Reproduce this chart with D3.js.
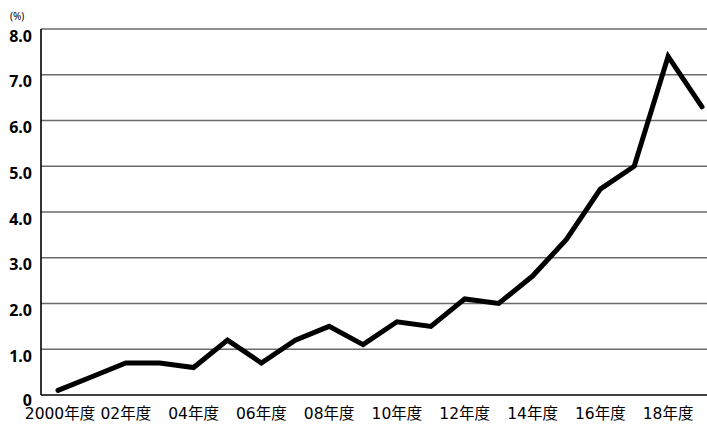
<!DOCTYPE html>
<html>
<head>
<meta charset="utf-8">
<script src="https://cdn.jsdelivr.net/npm/d3@7"></script>
<style>
  html, body { margin: 0; padding: 0; background: #fff; }
  svg { display: block; }
</style>
</head>
<body>
<svg id="chart" width="707" height="424"></svg>
<script>
// Fiscal years 2000–2019 and the ratio (%) for each year
const years = d3.range(2000, 2020);
const values = [0.1, 0.4, 0.7, 0.7, 0.6, 1.2, 0.7, 1.2, 1.5, 1.1,
                1.6, 1.5, 2.1, 2.0, 2.6, 3.4, 4.5, 5.0, 7.4, 6.3];
const yTicks = [0, 1, 2, 3, 4, 5, 6, 7, 8];
const xTickYears = [2000, 2002, 2004, 2006, 2008, 2010, 2012, 2014, 2016, 2018];
const xTickLabel = y => y === 2000 ? "2000年度" : String(y % 100).padStart(2, "0") + "年度";
const yTickLabel = v => v === 0 ? "0" : v.toFixed(1);

const svg = d3.select("#chart");
const plot = { left: 41, right: 707, top: 29, bottom: 395 };

const x = d3.scaleLinear().domain([2000, 2019]).range([58, 702]);
const y = d3.scaleLinear().domain([0, 8]).range([plot.bottom, plot.top]);

// Horizontal grid lines
svg.append("g")
  .selectAll("line")
  .data(yTicks.filter(d => d > 0))
  .join("line")
  .attr("x1", plot.left).attr("x2", plot.right)
  .attr("y1", d => y(d)).attr("y2", d => y(d))
  .attr("stroke", "#6a6a6a")
  .attr("stroke-width", 1.4);

// Axis lines
svg.append("line")
  .attr("x1", plot.left).attr("x2", plot.left)
  .attr("y1", plot.top).attr("y2", plot.bottom)
  .attr("stroke", "#000").attr("stroke-width", 1.6);
svg.append("line")
  .attr("x1", plot.left).attr("x2", plot.right)
  .attr("y1", plot.bottom).attr("y2", plot.bottom)
  .attr("stroke", "#000").attr("stroke-width", 1.6);

// Y tick labels
svg.append("g")
  .selectAll("text")
  .data(yTicks)
  .join("text")
  .attr("x", 32)
  .attr("y", d => y(d) + (d === 0 ? 11 : 12.5))
  .attr("text-anchor", "end")
  .attr("font-family", "'Noto Sans', sans-serif")
  .attr("font-size", 16)
  .attr("font-weight", "bold")
  .attr("fill", "#000")
  .text(yTickLabel);

// Unit label
svg.append("text")
  .attr("x", 10).attr("y", 20)
  .attr("font-family", "'Noto Sans', sans-serif")
  .attr("font-size", 10)
  .attr("fill", "#000")
  .text("(%)");

// X tick labels
svg.append("g")
  .selectAll("text")
  .data(xTickYears)
  .join("text")
  .attr("x", d => x(d) + (d === 2000 ? 2 : 0))
  .attr("y", 419)
  .attr("text-anchor", "middle")
  .attr("font-family", "'DejaVu Sans', 'Noto Sans CJK JP', sans-serif")
  .attr("font-size", 15.5)
  .attr("fill", "#000")
  .text(xTickLabel);

// Data line
const line = d3.line()
  .x((d, i) => x(years[i]))
  .y(d => y(d));

svg.append("path")
  .datum(values)
  .attr("d", line)
  .attr("fill", "none")
  .attr("stroke", "#000")
  .attr("stroke-width", 5)
  .attr("stroke-linejoin", "miter")
  .attr("stroke-linecap", "round");
</script>
</body>
</html>
